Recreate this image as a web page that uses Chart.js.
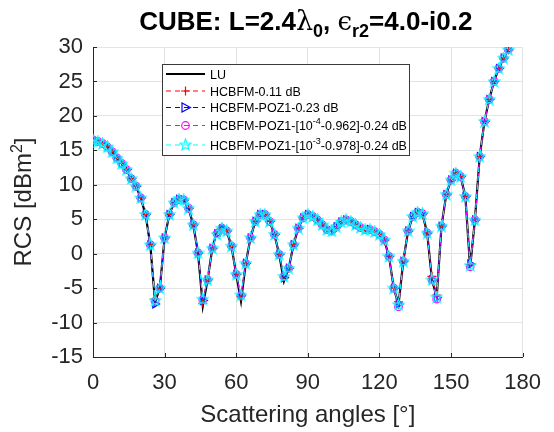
<!DOCTYPE html>
<html>
<head>
<meta charset="utf-8">
<script src="https://cdn.jsdelivr.net/npm/chart.js@4.4.0/dist/chart.umd.min.js"></script>
<style>
  html, body { margin: 0; padding: 0; background: #fff; }
  #wrap { width: 554px; height: 432px; }
</style>
</head>
<body>
<div id="wrap"><canvas id="rcs" width="554" height="432"></canvas></div>
<script>
// scattering angles (deg)
const angles = [0, 2, 4, 6, 8, 10, 12, 14, 16, 18,
  20, 22, 24, 26, 28, 30, 32, 34, 36, 38,
  40, 42, 44, 46, 48, 50, 52, 54, 56, 58,
  60, 62, 64, 66, 68, 70, 72, 74, 76, 78,
  80, 82, 84, 86, 88, 90, 92, 94, 96, 98,
  100, 102, 104, 106, 108, 110, 112, 114, 116, 118,
  120, 122, 124, 126, 128, 130, 132, 134, 136, 138,
  140, 142, 144, 146, 148, 150, 152, 154, 156, 158,
  160, 162, 164, 166, 168, 170, 172, 174];

const rcsLU = [16.5, 16.3, 16.0, 15.5, 14.8, 13.9, 13.1, 12.2, 10.9, 9.8,
  8.1, 5.7, 1.3, -7.0, -5.0, 2.3, 5.7, 7.4, 8.0, 7.8,
  6.6, 4.2, 0.1, -7.6, -3.8, 0.8, 3.4, 4.2, 3.3, 1.1,
  -3.0, -6.9, -1.4, 2.3, 4.7, 5.8, 5.8, 4.7, 2.8, -0.1,
  -4.0, -2.1, 1.3, 3.7, 5.2, 5.7, 5.4, 4.9, 4.2, 3.5,
  3.3, 3.9, 4.6, 4.9, 4.7, 4.2, 3.8, 3.5, 3.5, 3.2,
  2.8, 2.0, -0.4, -5.0, -7.4, -1.1, 3.3, 5.4, 6.0, 5.8,
  3.0, -3.8, -6.3, 4.0, 8.6, 10.7, 11.7, 11.2, 8.3, -2.0,
  4.9, 14.1, 19.2, 22.4, 25.0, 26.9, 28.4, 29.6];

const rcsHcbfm = [16.5, 16.3, 16.0, 15.5, 14.8, 13.9, 13.1, 12.2, 10.9, 9.8,
  8.1, 5.7, 1.3, -6.6, -5.0, 2.3, 5.7, 7.4, 7.9, 7.8,
  6.6, 4.2, 0.1, -7.2, -3.8, 0.8, 3.0, 3.6, 3.3, 1.1,
  -3.0, -6.2, -1.4, 2.3, 4.7, 5.7, 5.7, 4.7, 2.8, -0.1,
  -3.4, -2.1, 1.3, 3.7, 5.2, 5.7, 5.4, 4.9, 4.2, 3.5,
  3.3, 3.9, 4.6, 4.9, 4.7, 4.2, 3.8, 3.5, 3.5, 3.2,
  2.8, 2.0, -0.4, -5.0, -7.0, -1.1, 3.3, 5.4, 6.0, 5.8,
  3.0, -3.3, -6.0, 4.0, 8.6, 10.7, 11.7, 11.2, 8.3, -1.6,
  4.9, 14.1, 19.2, 22.4, 25.0, 26.9, 28.4, 29.6];

const rcsPoz1 = [16.5, 16.3, 16.0, 15.5, 14.8, 13.9, 13.1, 12.2, 10.9, 9.8,
  8.1, 5.7, 1.3, -7.3, -5.0, 2.3, 5.7, 7.4, 7.9, 7.8,
  6.6, 4.2, 0.1, -6.8, -3.8, 0.8, 2.9, 3.6, 3.3, 1.1,
  -3.0, -6.0, -1.4, 2.3, 4.7, 5.7, 5.7, 4.7, 2.8, -0.1,
  -3.5, -2.1, 1.3, 3.7, 5.2, 5.7, 5.4, 4.9, 4.2, 3.5,
  3.3, 3.9, 4.6, 4.9, 4.7, 4.2, 3.8, 3.5, 3.5, 3.2,
  2.8, 2.0, -0.4, -5.0, -7.3, -1.1, 3.3, 5.4, 6.0, 5.8,
  3.0, -3.8, -6.4, 4.0, 8.6, 10.7, 11.7, 11.2, 8.3, -1.5,
  4.9, 14.1, 19.2, 22.4, 25.0, 26.9, 28.4, 29.6];

const rcsPoz1e4 = [16.5, 16.3, 16.0, 15.5, 14.8, 13.9, 13.1, 12.2, 10.9, 9.8,
  8.1, 5.7, 1.3, -6.9, -5.0, 2.3, 5.7, 7.4, 7.9, 7.8,
  6.6, 4.2, 0.1, -6.7, -3.8, 0.8, 2.9, 3.7, 3.3, 1.1,
  -3.0, -6.1, -1.4, 2.3, 4.7, 5.7, 5.7, 4.7, 2.8, -0.1,
  -3.3, -2.1, 1.3, 3.7, 5.2, 5.7, 5.4, 4.9, 4.2, 3.5,
  3.3, 3.9, 4.6, 4.9, 4.7, 4.2, 3.8, 3.5, 3.5, 3.2,
  2.8, 2.0, -0.4, -5.0, -7.7, -1.1, 3.3, 5.4, 6.0, 5.8,
  3.0, -3.8, -6.6, 4.0, 8.6, 10.7, 11.7, 11.2, 8.3, -1.9,
  4.9, 14.1, 19.2, 22.4, 25.0, 26.9, 28.4, 29.6];

const rcsPoz1e3 = [16.5, 16.3, 16.0, 15.5, 14.8, 13.9, 13.1, 12.2, 10.9, 9.8,
  8.1, 5.7, 1.3, -6.8, -5.0, 2.3, 5.7, 7.4, 7.9, 7.8,
  6.6, 4.2, 0.1, -6.6, -3.8, 0.8, 2.8, 3.7, 3.3, 1.1,
  -3.0, -6.0, -1.4, 2.3, 4.7, 5.7, 5.7, 4.7, 2.8, -0.1,
  -3.3, -2.1, 1.3, 3.7, 5.2, 5.7, 5.4, 4.9, 4.2, 3.5,
  3.3, 3.9, 4.6, 4.9, 4.7, 4.2, 3.8, 3.5, 3.5, 3.2,
  2.8, 2.0, -0.4, -5.0, -7.4, -1.1, 3.3, 5.4, 6.0, 5.8,
  3.0, -3.8, -6.3, 4.0, 8.6, 10.7, 11.7, 11.2, 8.3, -1.7,
  4.9, 14.1, 19.2, 22.4, 25.0, 26.9, 28.4, 29.6];

const xTicks = [0, 30, 60, 90, 120, 150, 180];
const yTicks = [-15, -10, -5, 0, 5, 10, 15, 20, 25, 30];

const FONT = '"Liberation Sans", Arial, Helvetica, sans-serif';
const INK = '#262626';

// MATLAB-like pentagram marker
function makeStar(color) {
  const c = document.createElement('canvas');
  c.width = 13; c.height = 13;
  const g = c.getContext('2d');
  g.strokeStyle = color;
  g.lineWidth = 1.2;
  g.beginPath();
  for (let i = 0; i < 10; i++) {
    const r = i % 2 === 0 ? 5.9 : 2.4;
    const a = -Math.PI / 2 + i * Math.PI / 5;
    const px = 6.5 + r * Math.cos(a), py = 6.8 + r * Math.sin(a);
    if (i === 0) g.moveTo(px, py); else g.lineTo(px, py);
  }
  g.closePath();
  g.stroke();
  return c;
}
const starCyan = makeStar('#00ffff');

function pts(ys) {
  return angles.map((a, i) => ({ x: a, y: ys[i] }));
}

function drawRuns(ctx, runs, x, y, align) {
  let w = 0;
  runs.forEach(r => { ctx.font = r.f; w += ctx.measureText(r.t).width; });
  let cx = align === 'left' ? x : x - w / 2;
  runs.forEach(r => {
    ctx.font = r.f;
    ctx.fillText(r.t, cx, y + (r.dy || 0));
    cx += ctx.measureText(r.t).width;
  });
}

function legendMarker(ctx, kind, x, y, color) {
  ctx.save();
  ctx.strokeStyle = color;
  ctx.lineWidth = 1.2;
  ctx.setLineDash([]);
  ctx.beginPath();
  if (kind === 'cross') {
    ctx.moveTo(x - 4.5, y); ctx.lineTo(x + 4.5, y);
    ctx.moveTo(x, y - 4.5); ctx.lineTo(x, y + 4.5);
  } else if (kind === 'tri') {
    ctx.moveTo(x + 5, y); ctx.lineTo(x - 3.5, y - 4.5); ctx.lineTo(x - 3.5, y + 4.5); ctx.closePath();
  } else if (kind === 'circle') {
    ctx.arc(x, y, 3.8, 0, Math.PI * 2);
  }
  ctx.stroke();
  if (kind === 'star') ctx.drawImage(starCyan, x - 6.5, y - 6.8);
  ctx.restore();
}

const legendRows = [
  { color: '#000000', dash: [], width: 2.2, marker: null,
    runs: [{ t: 'LU' }] },
  { color: '#ff0000', dash: [5, 4], width: 1, marker: 'cross',
    runs: [{ t: 'HCBFM-0.11 dB' }] },
  { color: '#0000ff', dash: [5, 4], width: 1, marker: 'tri',
    runs: [{ t: 'HCBFM-POZ1-0.23 dB' }] },
  { color: '#ff00ff', dash: [5, 4], width: 1, marker: 'circle',
    runs: [{ t: 'HCBFM-POZ1-[10' }, { t: '-4', sup: true }, { t: '-0.962]-0.24 dB' }] },
  { color: '#00ffff', dash: [5, 4], width: 1, marker: 'star',
    runs: [{ t: 'HCBFM-POZ1-[10' }, { t: '-3', sup: true }, { t: '-0.978]-0.24 dB' }] }
];
const legendRowY = [74, 91, 107.5, 125.5, 145];

const decor = {
  id: 'decor',
  afterDraw(chart) {
    const ctx = chart.ctx;
    const area = chart.chartArea;
    const sx = chart.scales.x, sy = chart.scales.y;
    ctx.save();

    // inward tick marks
    ctx.strokeStyle = INK;
    ctx.lineWidth = 1;
    ctx.beginPath();
    yTicks.forEach(v => {
      const py = Math.round(sy.getPixelForValue(v)) + 0.5;
      ctx.moveTo(area.left, py); ctx.lineTo(area.left + 4, py);
    });
    xTicks.forEach(v => {
      const px = Math.round(sx.getPixelForValue(v)) + 0.5;
      ctx.moveTo(px, area.bottom); ctx.lineTo(px, area.bottom - 4);
    });
    ctx.stroke();

    // title
    ctx.fillStyle = '#000';
    ctx.textBaseline = 'alphabetic';
    const big = 'bold 26px ' + FONT, sub = 'bold 18px ' + FONT;
    drawRuns(ctx, [
      { t: 'CUBE: L=2.4', f: big },
      { t: 'λ', f: '27px "DejaVu Serif", serif' },
      { t: '0', f: sub, dy: 7 },
      { t: ', ', f: big },
      { t: 'ϵ', f: '26px "DejaVu Serif", serif' },
      { t: 'r2', f: sub, dy: 7 },
      { t: '=4.0-i0.2', f: big }
    ], (area.left + area.right) / 2 - 2, 30);

    // axis titles
    ctx.fillStyle = INK;
    drawRuns(ctx, [{ t: 'Scattering angles [°]', f: '24px ' + FONT }],
      (area.left + area.right) / 2, 422);
    ctx.save();
    ctx.translate(31, (area.top + area.bottom) / 2);
    ctx.rotate(-Math.PI / 2);
    drawRuns(ctx, [
      { t: 'RCS [dBm', f: '24px ' + FONT },
      { t: '2', f: '16px ' + FONT, dy: -9 },
      { t: ']', f: '24px ' + FONT }
    ], 0, 0);
    ctx.restore();

    // legend
    const bx = 162.5, by = 64.5, bw = 247, bh = 91;
    ctx.fillStyle = '#fff';
    ctx.fillRect(bx, by, bw, bh);
    ctx.strokeStyle = '#3a3a3a';
    ctx.lineWidth = 1;
    ctx.strokeRect(bx, by, bw, bh);
    legendRows.forEach((row, i) => {
      const y = legendRowY[i];
      ctx.save();
      ctx.strokeStyle = row.color;
      ctx.lineWidth = row.width;
      ctx.setLineDash(row.dash);
      ctx.beginPath();
      ctx.moveTo(166, y); ctx.lineTo(205, y);
      ctx.stroke();
      ctx.restore();
      if (row.marker) legendMarker(ctx, row.marker, 185.5, y, row.color);
      ctx.fillStyle = '#000';
      drawRuns(ctx, row.runs.map(r => r.sup
        ? { t: r.t, f: '9px ' + FONT, dy: -6 }
        : { t: r.t, f: '12.5px ' + FONT }), 210, y + 4.5, 'left');
    });
    ctx.restore();
  }
};

new Chart(document.getElementById('rcs'), {
  type: 'line',
  data: {
    datasets: [
      { label: 'LU', data: pts(rcsLU), borderColor: '#000000', borderWidth: 2.2,
        pointRadius: 0, order: 5 },
      { label: 'HCBFM-0.11 dB', data: pts(rcsHcbfm), borderColor: '#ff0000', borderWidth: 1,
        borderDash: [5, 4], pointStyle: 'cross', pointRadius: 4.5, pointBorderWidth: 1.2,
        pointBorderColor: '#ff0000', order: 4 },
      { label: 'HCBFM-POZ1-0.23 dB', data: pts(rcsPoz1), borderColor: '#0000ff', borderWidth: 1,
        borderDash: [5, 4], pointStyle: 'triangle', rotation: 90, pointRadius: 4.5,
        pointBorderWidth: 1.2, pointBorderColor: '#0000ff', pointBackgroundColor: 'rgba(0,0,0,0)', order: 3 },
      { label: 'HCBFM-POZ1-[10^-4-0.962]-0.24 dB', data: pts(rcsPoz1e4), borderColor: '#ff00ff', borderWidth: 1,
        borderDash: [5, 4], pointStyle: 'circle', pointRadius: 3.8, pointBorderWidth: 1.2,
        pointBorderColor: '#ff00ff', pointBackgroundColor: 'rgba(0,0,0,0)', order: 2 },
      { label: 'HCBFM-POZ1-[10^-3-0.978]-0.24 dB', data: pts(rcsPoz1e3), borderColor: '#00ffff', borderWidth: 1,
        borderDash: [5, 4], pointStyle: starCyan, order: 1 }
    ]
  },
  options: {
    responsive: false,
    animation: false,
    events: [],
    layout: { padding: { left: 0, top: 47, right: 26, bottom: 0 } },
    elements: { line: { tension: 0 } },
    plugins: { legend: { display: false }, tooltip: { enabled: false }, title: { display: false } },
    scales: {
      x: {
        type: 'linear', min: 0, max: 180,
        afterFit: s => { s.height = 75; },
        afterBuildTicks: s => { s.ticks = xTicks.map(v => ({ value: v })); },
        ticks: { font: { family: FONT, size: 22 }, color: INK, padding: 13, maxRotation: 0 },
        grid: { color: '#e3e3e3', drawTicks: false },
        border: { display: true, color: INK, width: 1 }
      },
      y: {
        type: 'linear', min: -15, max: 30,
        afterFit: s => { s.width = 93; },
        afterBuildTicks: s => { s.ticks = yTicks.map(v => ({ value: v })); },
        ticks: { font: { family: FONT, size: 22 }, color: INK, padding: 10 },
        grid: { color: '#e3e3e3', drawTicks: false },
        border: { display: true, color: INK, width: 1 }
      }
    }
  },
  plugins: [decor]
});
</script>
</body>
</html>
